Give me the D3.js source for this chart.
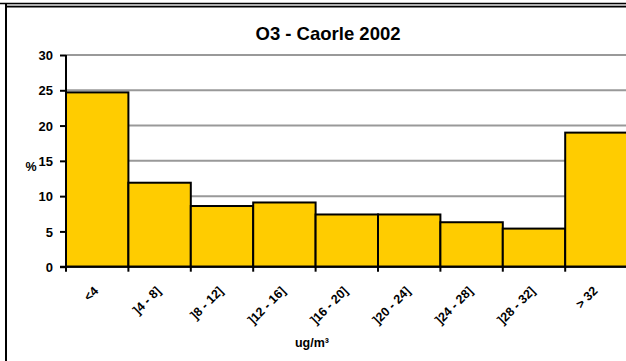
<!DOCTYPE html>
<html><head><meta charset="utf-8">
<script src="https://cdn.jsdelivr.net/npm/d3@7"></script>
<style>
html,body{margin:0;padding:0;background:#fff;}
svg{display:block;font-family:"Liberation Sans",Arial,sans-serif;font-weight:bold;}
svg text{font-family:"Liberation Sans",Arial,sans-serif;font-weight:bold;fill:#000;}
</style></head>
<body>
<svg id="chart" width="626" height="361"></svg>
<script>
const categories = ["<4", "]4 - 8]", "]8 - 12]", "]12 - 16]", "]16 - 20]", "]20 - 24]", "]24 - 28]", "]28 - 32]", "> 32"];
const values = [24.7, 11.9, 8.6, 9.1, 7.4, 7.4, 6.3, 5.4, 19.0];
const yTicks = [0, 5, 10, 15, 20, 25, 30];
const title = "O3 - Caorle 2002";
const yLabel = "%";
const xLabel = "ug/m³";

(function(){
const svg = d3.select("#chart");
const W = 626, H = 361;
const pLeft = 66, pRight = 627.6, pTop = 55, pBottom = 266.7;

// frame
svg.append("line").attr("x1",0).attr("x2",W).attr("y1",3.5).attr("y2",3.5).attr("stroke","#000").attr("stroke-width",1.5);
svg.append("line").attr("x1",5).attr("x2",W).attr("y1",5.2).attr("y2",5.2).attr("stroke","#888").attr("stroke-width",1);
svg.append("line").attr("x1",5).attr("x2",W).attr("y1",6.8).attr("y2",6.8).attr("stroke","#000").attr("stroke-width",1.5);
svg.append("line").attr("x1",6).attr("x2",6).attr("y1",3).attr("y2",H).attr("stroke","#000").attr("stroke-width",2);

const x = d3.scaleBand().domain(categories).range([pLeft, pRight]).padding(0);
const y = d3.scaleLinear().domain([0, 30]).range([pBottom, pTop]);

// gridlines
svg.append("g").selectAll("line").data(yTicks.filter(d => d > 0)).join("line")
  .attr("x1", pLeft).attr("x2", W).attr("y1", d => y(d)).attr("y2", d => y(d))
  .attr("stroke", "#999").attr("stroke-width", 2);

// bars
svg.append("g").selectAll("rect").data(values).join("rect")
  .attr("x", (d,i) => x(categories[i]))
  .attr("y", d => y(d))
  .attr("width", x.bandwidth())
  .attr("height", d => pBottom - y(d))
  .attr("fill", "#FFCC00").attr("stroke", "#000").attr("stroke-width", 2);

// y axis
const yAxis = svg.append("g").attr("transform", `translate(${pLeft},0)`)
  .call(d3.axisLeft(y).tickValues(yTicks).tickSize(6).tickPadding(7));
yAxis.attr("font-family", null).attr("font-size", null);
yAxis.select(".domain").attr("stroke","#000").attr("stroke-width",2).attr("d", `M0,${pTop}V${pBottom}`);
yAxis.selectAll(".tick line").attr("stroke","#000").attr("stroke-width",2);
yAxis.selectAll(".tick text").attr("font-size", 13).attr("dy", "0.36em");

// x axis
const edges = categories.map(c => x(c)).concat([pRight]);
const xAxis = svg.append("g");
xAxis.append("line").attr("x1", pLeft - 6).attr("x2", W).attr("y1", pBottom).attr("y2", pBottom)
  .attr("stroke","#000").attr("stroke-width",2);
xAxis.selectAll("line.t").data(edges).join("line").attr("class","t")
  .attr("x1", d => d).attr("x2", d => d).attr("y1", pBottom).attr("y2", pBottom + 5)
  .attr("stroke","#000").attr("stroke-width",2);
xAxis.selectAll("text").data(categories).join("text")
  .attr("transform", d => `translate(${x(d) + x.bandwidth()/2 + 2},${pBottom + 25}) rotate(-45)`)
  .attr("text-anchor","end")
  .attr("font-size", 12.5)
  .text(d => d);

// title
svg.append("text").attr("x", 328).attr("y", 40).attr("text-anchor","middle")
  .attr("font-size", 18.5).text(title);

// y label
svg.append("text").attr("x", 31).attr("y", 171).attr("text-anchor","middle")
  .attr("font-size", 12.5).text(yLabel);

// x label
svg.append("text").attr("x", 312).attr("y", 347).attr("text-anchor","middle")
  .attr("font-size", 12.5).text(xLabel);
})();
</script>
</body></html>
